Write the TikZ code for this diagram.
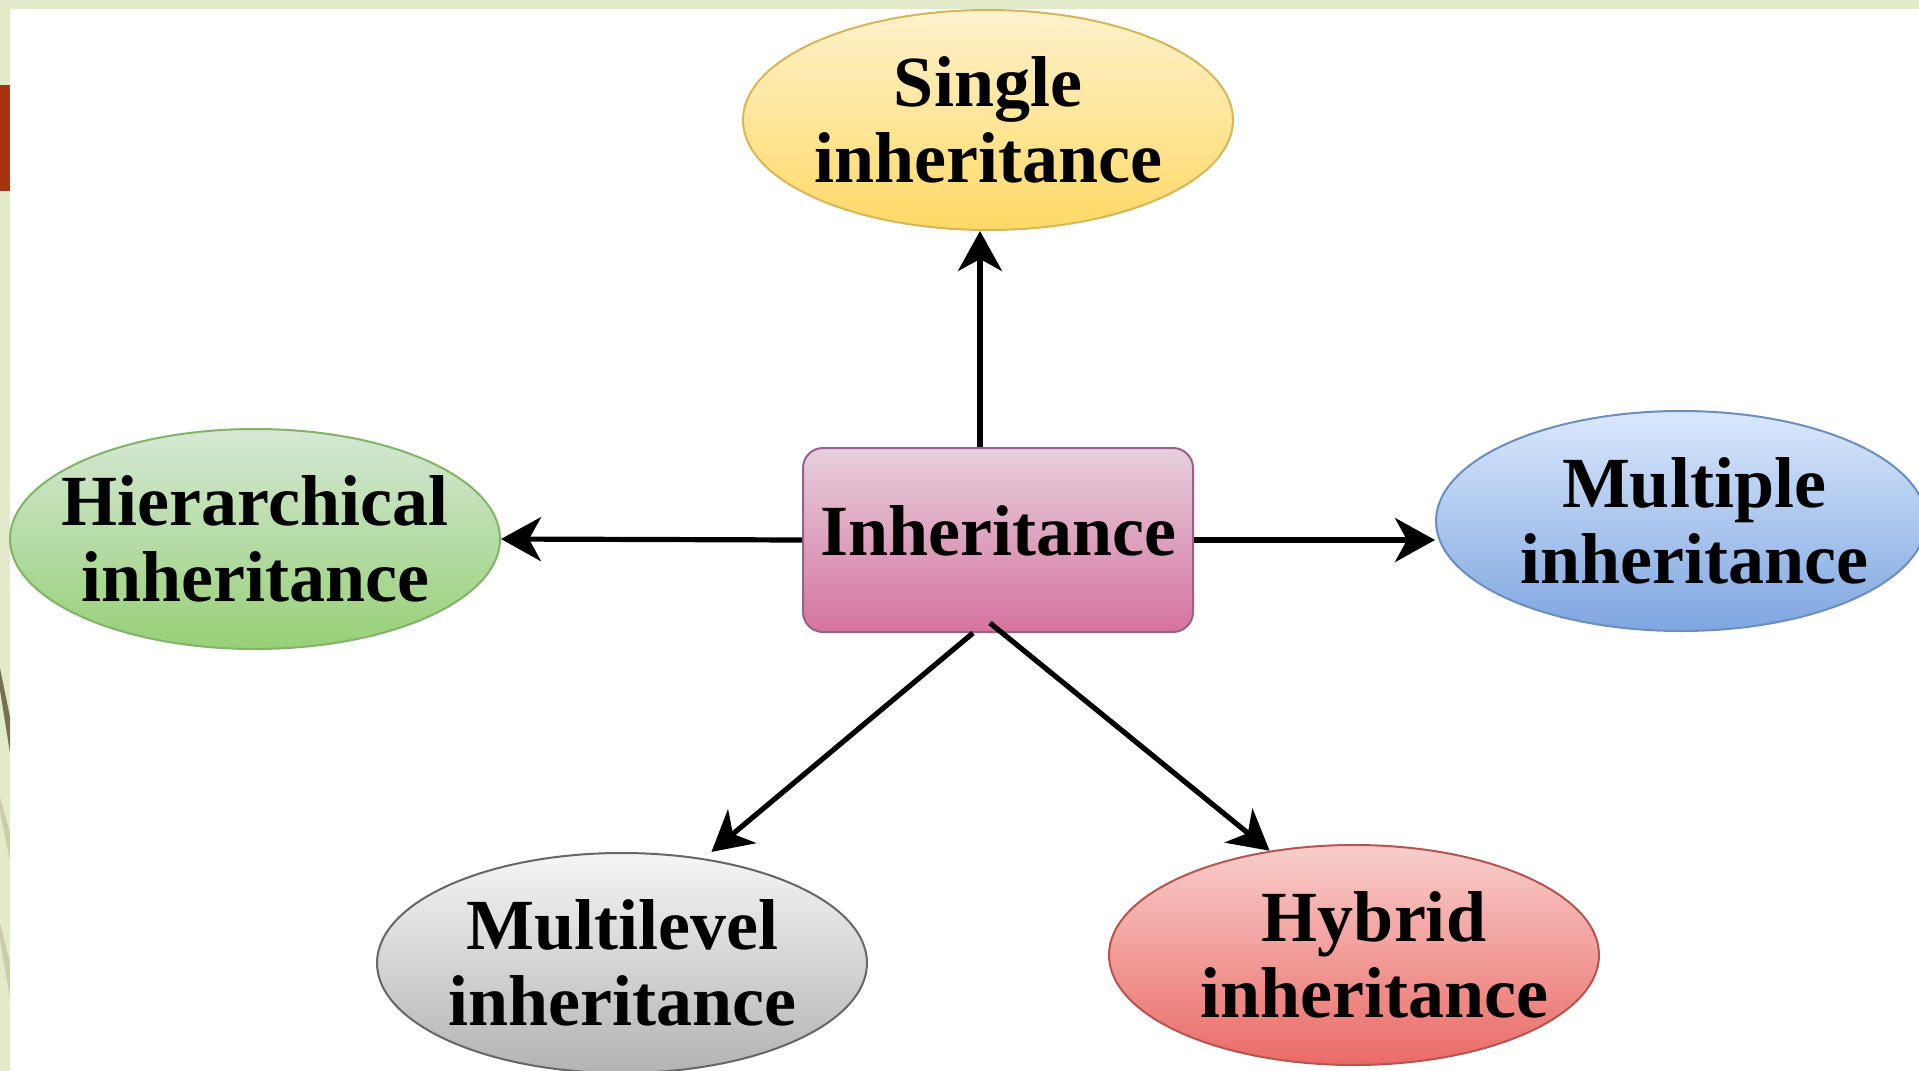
\documentclass[tikz,border=0pt]{standalone}
\usepackage{fontspec}
\setmainfont{Liberation Serif}
\usepackage{xcolor}
\usepackage{tikz}
\usetikzlibrary{shapes,arrows,arrows.meta,positioning}

\definecolor{stripgreen}{HTML}{E2EACA}
\definecolor{barred}{HTML}{A9320F}
\definecolor{olivedark}{HTML}{77704F}
\definecolor{olivelight}{HTML}{C9CDAA}
\definecolor{inhtop}{HTML}{E6D0DE}
\definecolor{inhbot}{HTML}{D5739D}
\definecolor{inhline}{HTML}{996185}

\tikzstyle{kind} = [ellipse, draw, line width=1pt, minimum width=245pt, minimum height=110pt, inner xsep=-14pt, inner ysep=0pt, align=center, font=\fontsize{36pt}{38pt}\selectfont\bfseries]
\tikzstyle{block} = [rectangle, draw=inhline, line width=1pt, top color=inhtop, bottom color=inhbot, rounded corners=10pt, minimum width=195pt, minimum height=92pt, text depth=9.5pt, font=\fontsize{36pt}{38pt}\selectfont\bfseries]
\tikzstyle{line} = [draw, line width=2.6pt, -{Stealth[length=20pt, width=22pt, inset=6pt]}]

\begin{document}
\begin{tikzpicture}[x=0.5pt, y=-0.5pt]
            \useasboundingbox (0,0) rectangle (1919,1071);
            \clip (0,0) rectangle (1919,1071);

            % slide background
            \fill[white] (0,0) rectangle (1919,1071);
            \fill[stripgreen] (0,0) rectangle (1919,9);
            \fill[stripgreen] (0,0) rectangle (10,1071);
            \fill[barred] (0,85) rectangle (10,191);
            \fill[olivedark] (0,668) -- (10,717) -- (10,753) -- (0,690) -- cycle;
            \fill[olivelight] (0,797) -- (10,833) -- (10,860) -- (0,812) -- cycle;
            \fill[olivelight] (0,923) -- (10,963) -- (10,997) -- (0,940) -- cycle;

            \node[block] (inh) at (998,540) {
                Inheritance
            };

            \node[kind, draw={rgb,255:red,214;green,182;blue,86}, top color={rgb,255:red,255;green,242;blue,204}, bottom color={rgb,255:red,255;green,217;blue,102}] (single) at (988,120) {
                Single\\inheritance
            };

            \node[kind, draw={rgb,255:red,130;green,179;blue,102}, top color={rgb,255:red,213;green,232;blue,212}, bottom color={rgb,255:red,151;green,208;blue,119}] (hier) at (255,539) {
                Hierarchical\\inheritance
            };

            \node[kind, draw={rgb,255:red,108;green,142;blue,191}, top color={rgb,255:red,218;green,232;blue,252}, bottom color={rgb,255:red,126;green,166;blue,224}] (mult) at (1681,521) {
                \hspace*{13pt}Multiple\\\hspace*{13pt}inheritance
            };

            \node[kind, draw={rgb,255:red,102;green,102;blue,102}, top color={rgb,255:red,245;green,245;blue,245}, bottom color={rgb,255:red,179;green,179;blue,179}] (multi) at (622,963) {
                Multilevel\\inheritance
            };

            \node[kind, draw={rgb,255:red,184;green,84;blue,80}, top color={rgb,255:red,248;green,206;blue,204}, bottom color={rgb,255:red,234;green,107;blue,102}] (hyb) at (1354,955) {
                \hspace*{20pt}Hybrid\\\hspace*{20pt}inheritance
            };

            \path[line] ([xshift=-9pt]inh.north) -- ([xshift=-9pt]inh.north |- single.south);
            \path[line] (inh.west) -- (hier.east);
            \path[line] (inh.east) -- (inh.east -| mult.west);
            \path[line, shorten >=5pt] ([xshift=-12.5pt]inh.south) -- (multi.52);
            \path[line] ([xshift=-4pt, yshift=5pt]inh.south) -- (hyb.129);

        \end{tikzpicture}
\end{document}
